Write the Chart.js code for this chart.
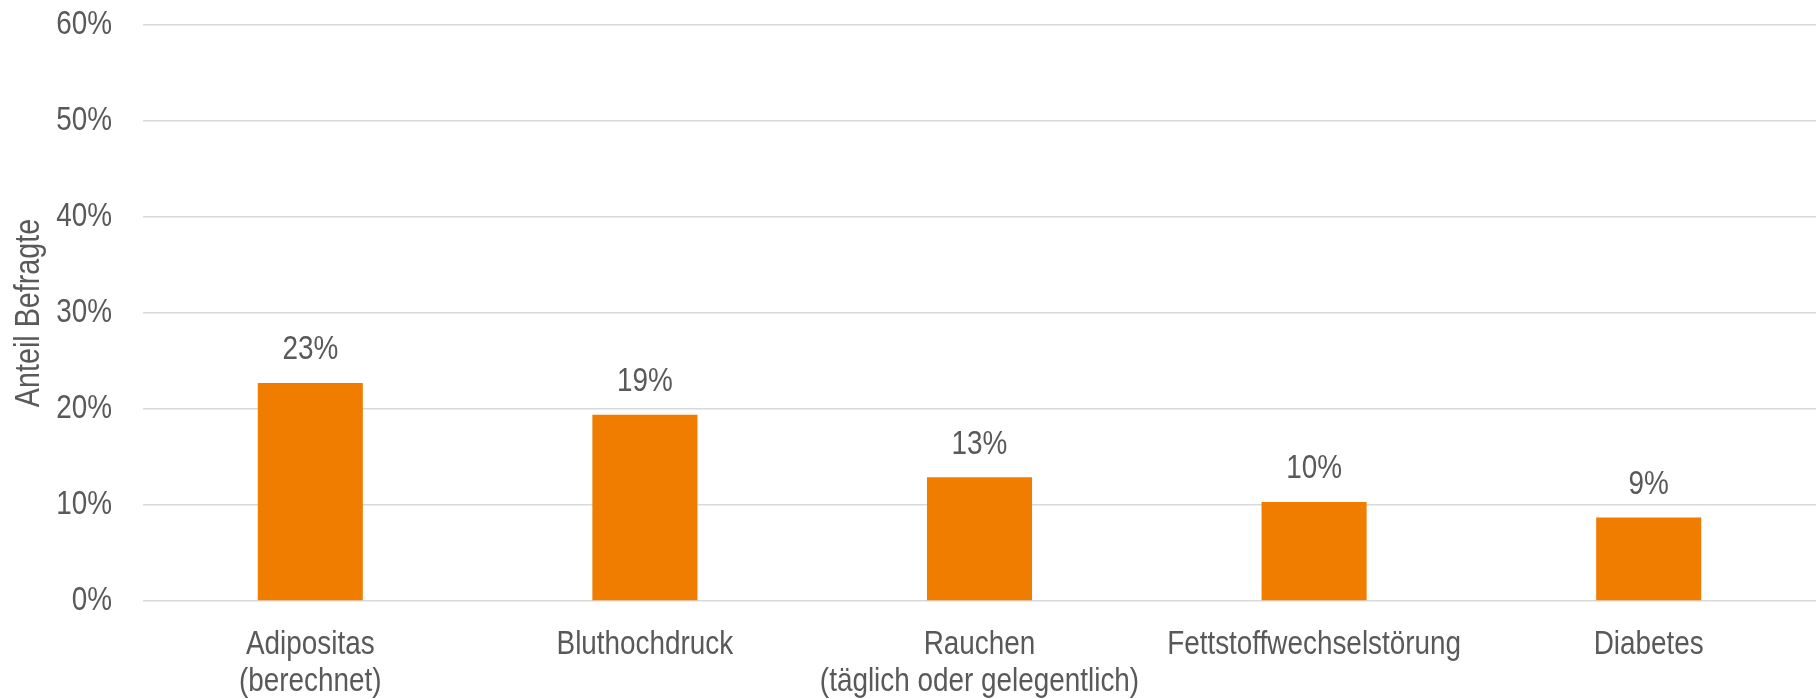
<!DOCTYPE html>
<html>
<head>
<meta charset="utf-8">
<script src="https://cdn.jsdelivr.net/npm/chart.js@4/dist/chart.umd.min.js"></script>
<style>
  html, body { margin: 0; padding: 0; background: #ffffff; }
  #chart-container { width: 1816px; height: 699px; }
</style>
</head>
<body>
<div id="chart-container"><canvas id="mycanvas"></canvas></div>
<script>
var categories = [
    ['Adipositas', '(berechnet)'],
    'Bluthochdruck',
    ['Rauchen', '(täglich oder gelegentlich)'],
    'Fettstoffwechselstörung',
    'Diabetes'
];
var values = [22.7, 19.4, 12.9, 10.3, 8.7]; // percent of respondents
var yTicks = [0, 10, 20, 30, 40, 50, 60];
var yTitle = 'Anteil Befragte';

var fontName = "'Liberation Sans', Arial, sans-serif";
var textColor = '#595959';
var NARROW = 0.82; // no Arial Narrow here, so squeeze the text ourselves

// make every text on this canvas narrow (measure + draw)
var narrowContext = function(c) {
    var fill = c.fillText.bind(c);
    var measure = c.measureText.bind(c);
    c.fillText = function(text, x, y, maxWidth) {
        var w = measure(text).width * NARROW;
        if (maxWidth !== undefined && maxWidth < w) w = maxWidth;
        fill(text, x, y, w);
    };
    c.measureText = function(text) {
        var m = measure(text);
        return {
            width: m.width * NARROW,
            actualBoundingBoxAscent: m.actualBoundingBoxAscent,
            actualBoundingBoxDescent: m.actualBoundingBoxDescent,
            actualBoundingBoxLeft: m.actualBoundingBoxLeft * NARROW,
            actualBoundingBoxRight: m.actualBoundingBoxRight * NARROW
        };
    };
};

// draws the rounded value above each bar
var barLabels = {
    id: 'barLabels',
    afterDatasetsDraw: function(chart) {
        var ctx = chart.ctx;
        var meta = chart.getDatasetMeta(0);
        ctx.save();
        ctx.font = '34px ' + fontName;
        ctx.fillStyle = textColor;
        ctx.textAlign = 'center';
        ctx.textBaseline = 'middle';
        meta.data.forEach(function(bar, i) {
            ctx.fillText(Math.round(values[i]) + '%', bar.x, bar.y - 33);
        });
        ctx.restore();
    }
};

var chartdata = {
    labels: categories,
    datasets: [{
        data: values,
        backgroundColor: '#F07D00',
        borderWidth: 0,
        barPercentage: 0.314,
        categoryPercentage: 1.0
    }]
};

var canvas = document.getElementById('mycanvas');
narrowContext(canvas.getContext('2d'));

var barGraph = new Chart(canvas, {
    type: 'bar',
    data: chartdata,
    plugins: [barLabels],
    options: {
        responsive: true,
        maintainAspectRatio: false,
        animation: false,
        layout: { padding: { top: 25, right: 0, bottom: 0, left: 0 } },
        plugins: {
            legend: { display: false },
            tooltip: { enabled: false }
        },
        scales: {
            x: {
                grid: { display: false, drawTicks: false },
                border: { display: false },
                ticks: {
                    color: textColor,
                    font: { family: fontName, size: 34, lineHeight: 1.1 },
                    padding: 25,
                    maxRotation: 0,
                    autoSkip: false
                },
                afterFit: function(scale) {
                    scale.height = 98;
                    scale.paddingLeft = 0;
                    scale.paddingRight = 0;
                }
            },
            y: {
                min: 0,
                max: 60,
                afterBuildTicks: function(axis) {
                    axis.ticks = yTicks.map(function(v) { return { value: v }; });
                },
                grid: { color: '#D9D9D9', lineWidth: 1.5, drawTicks: false },
                border: { display: false },
                ticks: {
                    color: textColor,
                    font: { family: fontName, size: 34 },
                    padding: 31,
                    callback: function(v) { return v + '%'; }
                },
                title: {
                    display: true,
                    text: yTitle,
                    color: textColor,
                    font: { family: fontName, size: 35, lineHeight: 1.2 },
                    padding: { top: 8, bottom: 0 }
                },
                afterFit: function(scale) {
                    scale.width = 143;
                    scale.paddingTop = 0;
                    scale.paddingBottom = 0;
                }
            }
        }
    }
});
</script>
</body>
</html>
